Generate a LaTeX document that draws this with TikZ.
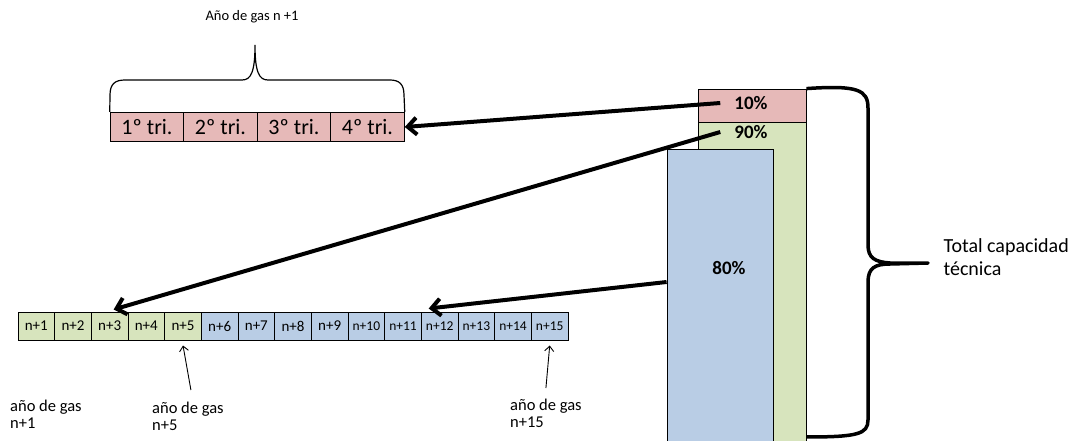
\documentclass[tikz,border=0pt]{standalone}
\usepackage{fontspec}
\setmainfont{Carlito}
\usetikzlibrary{arrows.meta,positioning}

\definecolor{rosa}{HTML}{E6B9B8}
\definecolor{verde}{HTML}{D7E4BD}
\definecolor{azul}{HTML}{B9CDE5}

\tikzset{
	tri/.style={draw, line width=1pt, fill=rosa, minimum width=73.5pt, minimum height=29pt, inner sep=0pt, font=\fontsize{22}{24}\selectfont},
	anyo/.style={draw, line width=1pt, minimum width=36.67pt, minimum height=28pt, inner sep=0pt},
	barra/.style={draw, line width=0.8pt, inner sep=0pt},
	pct/.style={font=\bfseries\fontsize{19}{21}\selectfont, inner xsep=14pt},
	texto/.style={align=left, inner sep=0pt, font=\fontsize{16.5}{17}\selectfont},
	flecha/.style={line width=4pt, -{Straight Barb[length=9pt,width=17pt]}},
	flechita/.style={line width=0.9pt, -{Straight Barb[length=5pt,width=9pt]}}
}

\begin{document}
\begin{tikzpicture}[x=1pt,y=-1pt]
		\useasboundingbox (0,0) rectangle (1072,441);
		
		% trimestres
		\node[tri] (q1) at (147,127) {1º tri.};
		\node[tri] (q2) at (220.5,127) {2º tri.};
		\node[tri] (q3) at (294,127) {3º tri.};
		\node[tri] (q4) at (367.5,127) {4º tri.};
		\draw[line width=1.2pt] (q1.north west) -- (110,95) .. controls (110,84) and (115,80) .. (125,80) -- (242,80) .. controls (251,80) and (255,72) .. (255,45) .. controls (255,72) and (259,80) .. (268,80) -- (390,80) .. controls (399,80) and (404,84) .. (404,95) -- (q4.north east);
		\node[font=\fontsize{14.5}{16}\selectfont] (gas1) at (252,17) {Año de gas n +1};
		
		% años de gas
		\foreach \i in {1,...,15} {
			\pgfmathsetmacro\cx{18+(\i-0.5)*36.67}
			\ifnum\i<6 \def\col{verde}\else\def\col{azul}\fi
			\ifnum\i<10 \def\tam{15}\else\def\tam{13.5}\fi
			\node[anyo, fill=\col, font=\fontsize{\tam}{\tam}\selectfont] (y\i) at (\cx,326) {n+\i};
		}
		\node[texto, anchor=north west] (l1) at (10,400) {año de gas\\n+1};
		\node[texto, anchor=north west] (l5) at (152,402) {año de gas\\n+5};
		\node[texto, anchor=north west] (l15) at (510,399) {año de gas\\n+15};
		\draw[flechita] ([xshift=3pt,yshift=12pt]l5.north) -- ([yshift=-5pt]y5.south);
		\draw[flechita] ([yshift=11pt]l15.north) -- ([yshift=-5pt]y15.south);
		
		% capacidad
		\node[barra, fill=rosa, minimum width=108pt, minimum height=33pt] (p10) at (752,105.5) {};
		\node[barra, fill=verde, minimum width=108pt, minimum height=319pt] (p90) at (752,281.5) {};
		\node[barra, fill=azul, minimum width=106pt, minimum height=292pt] (b80) at (720,295) {};
		\node[pct] (t10) at (751,103) {10\%};
		\node[pct] (t90) at (751,132) {90\%};
		\node[pct] (t80) at (729,268) {80\%};
		
		\draw[flecha] (t10.west) -- (q4.east);
		\draw[flecha] (t90.west) -- ([xshift=4pt,yshift=2pt]y3.north);
		\draw[flecha] ([yshift=13pt]b80.west) -- ([xshift=-11pt,yshift=3pt]y12.north);
		
		\draw[line width=3.5pt, line join=round] (p10.north east) .. controls (858,85) and (868,90) .. (868,108) -- (868,245) .. controls (868,258) and (875,262) .. (890,263) -- (928,263) -- (890,264) .. controls (875,264) and (868,268) .. (868,282) -- (868,420) .. controls (868,434) and (858,437) .. (806,437);
		\node[align=left, anchor=west, font=\fontsize{20}{23}\selectfont] (total) at (940,257) {Total capacidad\\técnica};
	\end{tikzpicture}
\end{document}
